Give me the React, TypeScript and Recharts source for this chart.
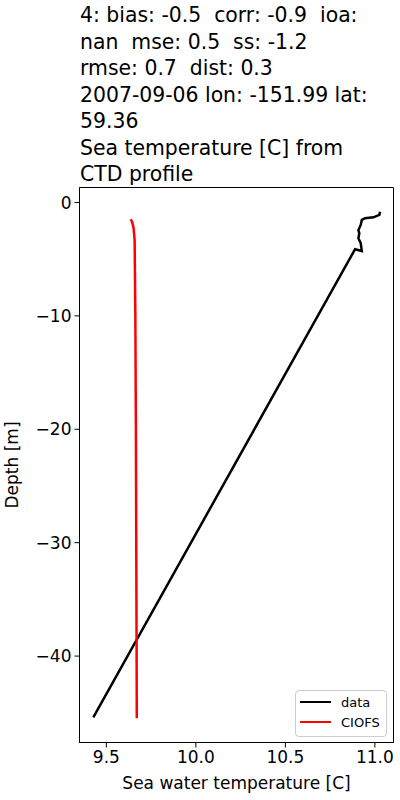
import React from "react";
import {
  LineChart,
  Line,
  XAxis,
  YAxis,
  Legend,
  Label,
  ReferenceArea,
} from "recharts";

// temperature [C] and depth [m]
const dataTemp = [
  11.029, 11.025, 10.992, 10.945, 10.927, 10.921, 10.908, 10.913, 10.908,
  10.921, 10.927, 10.889, 9.427,
];
const dataDepth = [
  -0.81, -1.1, -1.31, -1.39, -1.54, -1.98, -2.43, -2.72, -3.16, -3.6, -4.28,
  -4.13, -45.4,
];

const modelTemp = [9.636, 9.644, 9.652, 9.658, 9.662, 9.665, 9.667, 9.669, 9.67];
const modelDepth = [-1.48, -1.72, -2.25, -3.31, -10, -20, -30, -40, -45.48];

const xTicks = [9.5, 10.0, 10.5, 11.0];
const yTicks = [-40, -30, -20, -10, 0];
const xDomain: [number, number] = [9.35, 11.104];
const yDomain: [number, number] = [-47.62, 1.32];

const titleLines = [
  "4: bias: -0.5  corr: -0.9  ioa:",
  "nan  mse: 0.5  ss: -1.2",
  "rmse: 0.7  dist: 0.3",
  "2007-09-06 lon: -151.99 lat:",
  "59.36",
  "Sea temperature [C] from",
  "CTD profile",
];

const series = [
  { name: "data", color: "#000000", temp: dataTemp, depth: dataDepth },
  { name: "CIOFS", color: "#ff0000", temp: modelTemp, depth: modelDepth },
];

const FONT = "'DejaVu Sans', sans-serif";

const toRows = (temp: number[], depth: number[]) =>
  temp.map((t, i) => ({ t, d: depth[i] }));

const fmtY = (v: number) => (v === 0 ? "0" : v < 0 ? `\u2212${Math.abs(v)}` : `${v}`);

const LegendBox = () => (
  <div
    style={{
      border: "1px solid #cccccc",
      borderRadius: 4,
      background: "rgba(255,255,255,0.8)",
      width: 90,
      height: 44,
      paddingTop: 1,
      boxSizing: "content-box",
      fontFamily: FONT,
      fontSize: 13,
      color: "#000",
    }}
  >
    {series.map((s) => (
      <div
        key={s.name}
        style={{ display: "flex", alignItems: "center", height: 20 }}
      >
        <div
          style={{
            marginLeft: 4,
            width: 31,
            height: 2.5,
            background: s.color,
          }}
        />
        <span style={{ marginLeft: 10 }}>{s.name}</span>
      </div>
    ))}
  </div>
);

const App: React.FC = () => {
  return (
    <div
      style={{
        position: "absolute",
        left: 0,
        top: 0,
        width: 400,
        height: 800,
        background: "#fff",
        fontFamily: FONT,
      }}
    >
      {/* titulo */}
      <div
        style={{
          position: "absolute",
          left: 80,
          top: 2.4,
          fontSize: 20.4,
          lineHeight: "26.5px",
          whiteSpace: "pre",
          color: "#000",
        }}
      >
        {titleLines.map((l, i) => (
          <div key={i}>{l}</div>
        ))}
      </div>

      <LineChart
        width={400}
        height={800}
        margin={{ top: 187.5, right: 6.5, left: 0, bottom: 0 }}
        style={{ position: "absolute", left: 0, top: 0 }}
      >
        <XAxis
          type="number"
          dataKey="t"
          domain={xDomain}
          ticks={xTicks}
          allowDataOverflow
          height={57.5}
          tickSize={5}
          tickMargin={3}
          tickFormatter={(v: number) => v.toFixed(1)}
          tick={{ fill: "#000", fontSize: 17, fontFamily: FONT }}
          axisLine={{ stroke: "#000" }}
          tickLine={{ stroke: "#000" }}
        >
          <Label
            content={({ viewBox }: any) => (
              <text
                x={viewBox.x + viewBox.width / 2}
                y={viewBox.y + viewBox.height - 11}
                textAnchor="middle"
                fontSize={17}
                fontFamily={FONT}
                fill="#000"
              >
                Sea water temperature [C]
              </text>
            )}
          />
        </XAxis>
        <YAxis
          type="number"
          domain={yDomain}
          ticks={yTicks}
          allowDataOverflow
          width={79.5}
          tickSize={5}
          tickMargin={3}
          tickFormatter={fmtY}
          tick={{ fill: "#000", fontSize: 17, fontFamily: FONT }}
          axisLine={{ stroke: "#000" }}
          tickLine={{ stroke: "#000" }}
        >
          <Label
            content={({ viewBox }: any) => {
              const cx = viewBox.x + 17.5;
              const cy = viewBox.y + viewBox.height / 2;
              return (
                <text
                  x={cx}
                  y={cy}
                  transform={`rotate(-90, ${cx}, ${cy})`}
                  textAnchor="middle"
                  fontSize={17}
                  fontFamily={FONT}
                  fill="#000"
                >
                  Depth [m]
                </text>
              );
            }}
          />
        </YAxis>
        <ReferenceArea
          x1={xDomain[0]}
          x2={xDomain[1]}
          y1={yDomain[0]}
          y2={yDomain[1]}
          fill="none"
          stroke="#000"
          strokeWidth={1}
          ifOverflow="visible"
        />
        {series.map((s) => (
          <Line
            key={s.name}
            name={s.name}
            data={toRows(s.temp, s.depth)}
            dataKey="d"
            type="linear"
            stroke={s.color}
            strokeWidth={2.5}
            dot={false}
            activeDot={false}
            isAnimationActive={false}
          />
        ))}
        <Legend
          layout="vertical"
          align="center"
          verticalAlign="middle"
          content={() => <LegendBox />}
          wrapperStyle={{ left: 295, top: 690, width: 92 }}
        />
      </LineChart>
    </div>
  );
};

export default App;
